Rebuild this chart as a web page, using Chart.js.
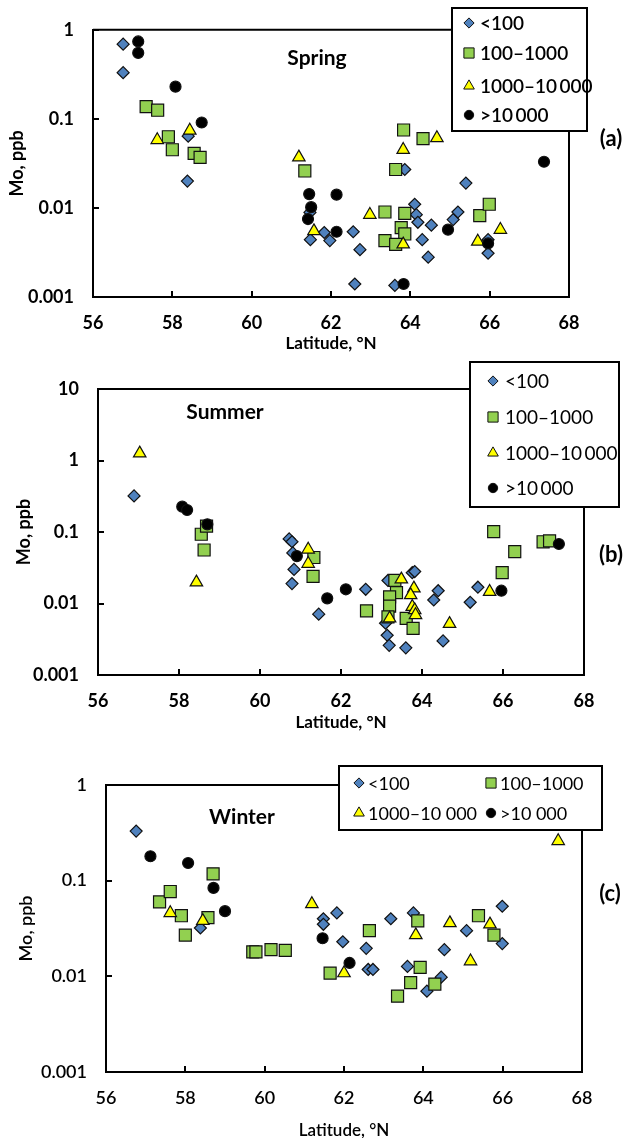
<!DOCTYPE html>
<html lang="en">
<head>
<meta charset="UTF-8">
<title>Mo vs latitude</title>
<script src="https://cdn.jsdelivr.net/npm/chart.js"></script>
<style>
  html, body { margin: 0; padding: 0; background: #fff; overflow: hidden; }
  body { width: 630px; height: 1138px; position: relative; }
  canvas { position: absolute; left: 0; }
</style>
</head>
<body>
<canvas id="spring" width="630" height="356" style="top:0"></canvas>
<canvas id="summer" width="630" height="379" style="top:356px"></canvas>
<canvas id="winter" width="630" height="410" style="top:730px"></canvas>

<script>
// ---- data (latitude °N, Mo ppb) ----
const seriesLabels = ['<100', '100\u20131000', '1000\u201310\u2009000', '>10\u2009000'];
const seriesLabelsC = ['<100', '100\u20131000', '1000\u201310 000', '>10 000'];
const xTicks = [56, 58, 60, 62, 64, 66, 68];
const yTicksAC = [0.001, 0.01, 0.1, 1];
const yTickLabelsAC = ['0.001', '0.01', '0.1', '1'];
const yTicksB = [0.001, 0.01, 0.1, 1, 10];
const yTickLabelsB = ['0.001', '0.01', '0.1', '1', '10'];

// Spring
const springLt100Lat = [56.76, 56.76, 58.40, 58.38, 61.47, 61.48, 61.83, 61.97, 62.56, 62.73, 62.60, 63.61, 63.86, 64.11, 64.15, 64.19, 64.53, 64.30, 64.45, 65.08, 65.20, 65.40, 65.96, 65.96];
const springLt100Mo = [0.69, 0.33, 0.064, 0.020, 0.0089, 0.0044, 0.0053, 0.0043, 0.0054, 0.0034, 0.0014, 0.00135, 0.027, 0.011, 0.0084, 0.0069, 0.0064, 0.0044, 0.0028, 0.0074, 0.0090, 0.019, 0.0044, 0.0031];
const spring100Lat = [57.34, 57.63, 57.90, 58.00, 58.55, 58.70, 61.34, 63.36, 63.86, 63.77, 63.86, 63.36, 63.63, 63.63, 63.83, 64.32, 65.75, 65.99];
const spring100Mo = [0.137, 0.125, 0.063, 0.045, 0.041, 0.037, 0.026, 0.0090, 0.0087, 0.0060, 0.0051, 0.0043, 0.0039, 0.027, 0.075, 0.060, 0.0082, 0.011];
const spring1000Lat = [57.62, 58.44, 61.19, 61.57, 62.98, 63.82, 63.82, 64.67, 65.70, 66.27];
const spring1000Mo = [0.058, 0.074, 0.037, 0.0055, 0.0084, 0.0039, 0.045, 0.061, 0.0042, 0.0057];
const spring10kLat = [57.14, 57.14, 58.08, 58.74, 61.45, 61.50, 61.42, 62.14, 62.14, 64.95, 65.96, 63.83, 67.37];
const spring10kMo = [0.74, 0.55, 0.23, 0.091, 0.0143, 0.0102, 0.0075, 0.0141, 0.0054, 0.0057, 0.0040, 0.0014, 0.033];

// Summer
const summerLt100Lat = [56.89, 60.72, 60.79, 60.81, 60.84, 60.79, 61.45, 62.61, 63.16, 63.10, 63.14, 63.19, 63.60, 63.76, 63.82, 64.40, 64.29, 64.52, 65.19, 65.38];
const summerLt100Mo = [0.32, 0.080, 0.073, 0.051, 0.030, 0.019, 0.0071, 0.0158, 0.021, 0.0053, 0.0036, 0.0026, 0.0024, 0.027, 0.028, 0.0151, 0.0112, 0.0030, 0.0104, 0.0169];
const summer100Lat = [58.55, 58.68, 58.62, 61.33, 61.31, 62.63, 63.33, 63.37, 63.20, 63.20, 63.16, 63.61, 63.78, 65.77, 66.29, 65.98, 66.99, 67.15];
const summer100Mo = [0.093, 0.121, 0.056, 0.044, 0.024, 0.0079, 0.021, 0.0142, 0.0124, 0.0092, 0.0065, 0.0062, 0.0045, 0.101, 0.053, 0.027, 0.073, 0.075];
const summer1000Lat = [57.03, 58.43, 61.19, 61.19, 63.49, 63.80, 63.72, 63.76, 63.82, 63.84, 63.20, 64.68, 65.67];
const summer1000Mo = [1.26, 0.0198, 0.057, 0.036, 0.0218, 0.0163, 0.0131, 0.0090, 0.0081, 0.0069, 0.0062, 0.0052, 0.0146];
const summer10kLat = [58.08, 58.20, 58.70, 60.91, 61.66, 62.12, 65.96, 67.38];
const summer10kMo = [0.226, 0.203, 0.128, 0.046, 0.0118, 0.0158, 0.0151, 0.068];

// Winter
const winterLt100Lat = [56.76, 58.38, 61.48, 61.48, 61.82, 61.97, 62.56, 62.61, 62.73, 63.18, 63.75, 63.60, 64.09, 64.45, 64.53, 65.09, 65.99, 65.99];
const winterLt100Mo = [0.33, 0.032, 0.040, 0.035, 0.046, 0.023, 0.0196, 0.0118, 0.0118, 0.040, 0.046, 0.0127, 0.0070, 0.0098, 0.019, 0.030, 0.054, 0.022];
const winter100Lat = [57.35, 57.62, 57.90, 58.00, 58.57, 58.70, 59.70, 59.78, 60.16, 60.52, 61.65, 62.64, 63.86, 63.92, 63.68, 63.35, 64.29, 65.39, 65.78];
const winter100Mo = [0.060, 0.077, 0.043, 0.027, 0.041, 0.118, 0.018, 0.018, 0.019, 0.0187, 0.0108, 0.030, 0.038, 0.0124, 0.0086, 0.0062, 0.0083, 0.043, 0.027];
const winter1000Lat = [57.62, 58.44, 61.19, 62.00, 63.81, 64.67, 65.19, 65.68, 67.40];
const winter1000Mo = [0.046, 0.038, 0.057, 0.0108, 0.027, 0.036, 0.0144, 0.035, 0.26];
const winter10kLat = [57.12, 58.07, 58.71, 59.00, 61.46, 62.14];
const winter10kMo = [0.18, 0.153, 0.084, 0.048, 0.025, 0.0138];

// ---- styles ----
const FONT = 'Lato, "Open Sans", sans-serif';
const markerStyles = [
  { pointStyle: 'rectRot', backgroundColor: '#4f81bd', pointRadius: 6, order: 4 },
  { pointStyle: 'rect', backgroundColor: '#92d050', pointRadius: 8.5, order: 3 },
  { pointStyle: 'triangle', backgroundColor: '#ffff00', pointRadius: 7.2, order: 2 },
  { pointStyle: 'circle', backgroundColor: '#000000', pointRadius: 5.5, order: 1 }
];

function pts(lat, mo) {
  return lat.map((x, i) => ({ x: x, y: mo[i] }));
}

function makeDatasets(labels, series) {
  return series.map((s, i) => ({
    label: labels[i],
    data: pts(s[0], s[1]),
    pointStyle: markerStyles[i].pointStyle,
    backgroundColor: markerStyles[i].backgroundColor,
    borderColor: '#111',
    borderWidth: 1.2,
    pointRadius: markerStyles[i].pointRadius,
    pointHoverRadius: markerStyles[i].pointRadius,
    order: markerStyles[i].order
  }));
}

// frame on top/right plus inward tick marks
const framePlugin = {
  id: 'frame',
  beforeDatasetsDraw(chart) {
    const { ctx, chartArea: a, scales } = chart;
    ctx.save();
    ctx.strokeStyle = '#000';
    ctx.lineWidth = 2;
    ctx.beginPath();
    ctx.moveTo(a.left, a.top);
    ctx.lineTo(a.right, a.top);
    ctx.lineTo(a.right, a.bottom);
    scales.x.ticks.forEach(t => {
      const px = Math.round(scales.x.getPixelForValue(t.value));
      ctx.moveTo(px, a.bottom);
      ctx.lineTo(px, a.bottom - 6);
    });
    scales.y.ticks.forEach(t => {
      const py = Math.round(scales.y.getPixelForValue(t.value));
      ctx.moveTo(a.left, py);
      ctx.lineTo(a.left + 6, py);
    });
    ctx.stroke();
    ctx.restore();
  }
};

const legendBoxPlugin = {
  id: 'legendBox',
  afterDraw(chart, args, o) {
    const ctx = chart.ctx;
    ctx.save();
    ctx.fillStyle = '#fff';
    ctx.fillRect(o.box[0], o.box[1], o.box[2], o.box[3]);
    ctx.strokeStyle = '#000';
    ctx.lineWidth = 2;
    ctx.strokeRect(o.box[0], o.box[1], o.box[2], o.box[3]);
    chart.data.datasets.forEach((ds, i) => {
      const p = o.items[i];
      ctx.fillStyle = ds.backgroundColor;
      ctx.strokeStyle = ds.borderColor;
      ctx.lineWidth = 1;
      Chart.helpers.drawPoint(ctx, { pointStyle: ds.pointStyle, radius: ds.pointRadius * 0.85, borderWidth: 1, rotation: 0 }, p[0], p[1]);
      ctx.fillStyle = '#000';
      ctx.font = o.font;
      ctx.textAlign = 'left';
      ctx.textBaseline = 'middle';
      ctx.fillText(ds.label, p[0] + o.gap, p[1] + 1);
    });
    // season title and panel letter
    ctx.textAlign = 'center';
    ctx.font = 'bold 21px ' + FONT;
    ctx.fillText(o.title[0], o.title[1], o.title[2]);
    ctx.font = 'bold 22px ' + FONT;
    ctx.fillText(o.letter[0], o.letter[1], o.letter[2]);
    ctx.restore();
  }
};

function makePanel(id, cfg) {
  const canvas = document.getElementById(id);
  const H = canvas.height;
  const axisFont = { family: FONT, size: 18, weight: cfg.weight, lineHeight: 1.2 };
  new Chart(canvas, {
    type: 'scatter',
    data: { datasets: makeDatasets(cfg.labels, cfg.series) },
    options: {
      responsive: false,
      animation: false,
      devicePixelRatio: 1,
      events: [],
      layout: { padding: { left: 0, top: cfg.area[2], right: 630 - cfg.area[1], bottom: 0 } },
      plugins: {
        legend: { display: false },
        tooltip: { enabled: false },
        legendBox: cfg.legend
      },
      scales: {
        x: {
          type: 'linear',
          min: xTicks[0],
          max: xTicks[xTicks.length - 1],
          afterBuildTicks(s) { s.ticks = xTicks.map(v => ({ value: v })); },
          afterFit(s) { s.height = H - cfg.area[3]; },
          ticks: { autoSkip: false, maxRotation: 0, color: '#000', font: axisFont, padding: 15 },
          grid: { drawOnChartArea: false, drawTicks: false },
          border: { color: '#000', width: 2 },
          title: { display: true, text: 'Latitude, °N', color: '#000', font: { family: FONT, size: 17, weight: cfg.weight, lineHeight: 1 }, padding: { top: 0, bottom: cfg.xTitlePad } }
        },
        y: {
          type: 'logarithmic',
          min: cfg.yTicks[0],
          max: cfg.yTicks[cfg.yTicks.length - 1],
          afterBuildTicks(s) { s.ticks = cfg.yTicks.map(v => ({ value: v, major: true })); },
          afterFit(s) { s.width = cfg.area[0]; },
          ticks: { autoSkip: false, color: '#000', font: axisFont, padding: 19, callback: (v, i) => cfg.yLabels[i] },
          grid: { drawOnChartArea: false, drawTicks: false },
          border: { color: '#000', width: 2 },
          title: { display: true, text: 'Mo, ppb', color: '#000', font: { family: FONT, size: 18, weight: cfg.weight, lineHeight: 1 }, padding: { top: cfg.yTitlePad, bottom: 0 } }
        }
      }
    },
    plugins: [framePlugin, legendBoxPlugin]
  });
}

// area: [left, right, top, bottom] in canvas pixels
makePanel('spring', {
  labels: seriesLabels,
  series: [[springLt100Lat, springLt100Mo], [spring100Lat, spring100Mo], [spring1000Lat, spring1000Mo], [spring10kLat, spring10kMo]],
  yTicks: yTicksAC, yLabels: yTickLabelsAC,
  area: [93, 569, 25, 297],
  weight: 'bold', xTitlePad: 4, yTitlePad: 8,
  legend: {
    box: [452, 8, 135, 123], gap: 11, font: '600 19px ' + FONT,
    items: [[469, 23], [469, 53], [469, 86], [469, 115]],
    title: ['Spring', 317, 58], letter: ['(a)', 611, 139]
  }
});

makePanel('summer', {
  labels: seriesLabels,
  series: [[summerLt100Lat, summerLt100Mo], [summer100Lat, summer100Mo], [summer1000Lat, summer1000Mo], [summer10kLat, summer10kMo]],
  yTicks: yTicksB, yLabels: yTickLabelsB,
  area: [98, 584, 33, 319],
  weight: 'bold', xTitlePad: 4, yTitlePad: 15,
  legend: {
    box: [470, 6, 149, 145], gap: 12, font: '19px ' + FONT,
    items: [[493, 25], [493, 61], [493, 97], [493, 132]],
    title: ['Summer', 225, 56], letter: ['(b)', 611, 199]
  }
});

makePanel('winter', {
  labels: seriesLabelsC,
  series: [[winterLt100Lat, winterLt100Mo], [winter100Lat, winter100Mo], [winter1000Lat, winter1000Mo], [winter10kLat, winter10kMo]],
  yTicks: yTicksAC, yLabels: yTickLabelsAC,
  area: [106, 582, 55, 342],
  weight: '600', xTitlePad: 1, yTitlePad: 17,
  legend: {
    box: [339, 36, 263, 64], gap: 9, font: '18px ' + FONT,
    items: [[359, 53], [491, 53], [359, 83], [491, 83]],
    title: ['Winter', 242, 87], letter: ['(c)', 610, 164]
  }
});
</script>
</body>
</html>
